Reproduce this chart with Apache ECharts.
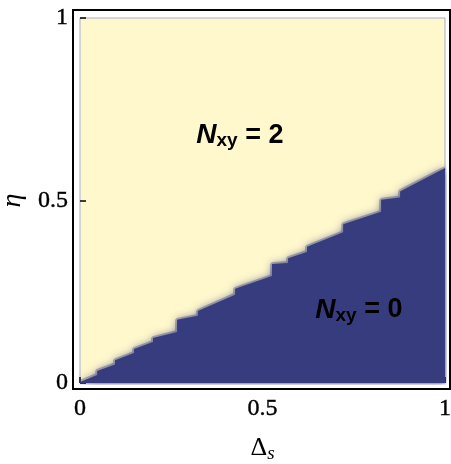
<!DOCTYPE html>
<html>
<head>
<meta charset="utf-8">
<script src="https://cdn.jsdelivr.net/npm/echarts@6/dist/echarts.min.js"></script>
<style>
  html, body { margin: 0; padding: 0; background: #fff; }
  #chart { width: 451px; height: 464px; }
</style>
</head>
<body>
<div id="chart"></div>
<script>
// phase boundary between N_xy = 0 (below) and N_xy = 2 (above)
var deltaS = [0, 0.047, 0.047, 0.096, 0.096, 0.148, 0.148, 0.200, 0.200, 0.266, 0.266,
              0.323, 0.323, 0.425, 0.425, 0.526, 0.526, 0.570, 0.570, 0.622, 0.622,
              0.721, 0.721, 0.825, 0.825, 0.877, 0.877, 1];
var eta = [0.003, 0.022, 0.033, 0.051, 0.062, 0.082, 0.093, 0.112, 0.123, 0.140, 0.173,
           0.184, 0.197, 0.242, 0.258, 0.293, 0.326, 0.329, 0.342, 0.359, 0.373,
           0.413, 0.435, 0.469, 0.502, 0.508, 0.525, 0.589];
var xTicks = [0, 0.5, 1];
var yTicks = [0, 0.5, 1];
var phaseLabels = [
  { pos: [0.438, 0.679], n: '2' },
  { pos: [0.764, 0.200], n: '0' }
];

var boundary = deltaS.map(function (d, i) { return [d, eta[i]]; });

var chart = echarts.init(document.getElementById('chart'));

var serif = 'Times New Roman';
var sans = 'Arial';
var option = {
  animation: false,
  textStyle: { fontFamily: serif },
  grid: [
    {
      left: 80, right: 6, top: 18, bottom: 81,
      outerBoundsMode: 'none',
      containLabel: false,
      show: true,
      backgroundColor: '#FFF8CC',
      borderColor: '#A9ABCF',
      borderWidth: 1
    },
    {
      left: 73, right: 1, top: 10, bottom: 75,
      outerBoundsMode: 'none',
      containLabel: false,
      show: true,
      backgroundColor: 'transparent',
      borderColor: '#000',
      borderWidth: 2
    }
  ],
  xAxis: [
    {
      type: 'value', gridIndex: 0, min: 0, max: 1, interval: 0.5,
      offset: 6,
      axisLine: { show: false },
      axisTick: { inside: true, length: 6, lineStyle: { color: '#000', width: 1.5 } },
      splitLine: { show: false },
      axisLabel: {
        color: '#000', fontFamily: serif, fontSize: 24, margin: 8,
        textBorderColor: '#000', textBorderWidth: 0.4,
        customValues: xTicks
      },
      name: 'Δ{s|s}',
      nameLocation: 'middle',
      nameGap: 45,
      nameTextStyle: {
        color: '#000', fontFamily: serif, fontSize: 26,
        rich: { s: { fontFamily: serif, fontStyle: 'italic', fontSize: 19, padding: [10, 0, 0, 0], color: '#000' } }
      }
    },
    { type: 'value', gridIndex: 1, show: false, min: 0, max: 1 }
  ],
  yAxis: [
    {
      type: 'value', gridIndex: 0, min: 0, max: 1, interval: 0.5,
      offset: 7,
      axisLine: { show: false },
      axisTick: { inside: true, length: 6, lineStyle: { color: '#000', width: 1.5 } },
      splitLine: { show: false },
      axisLabel: {
        color: '#000', fontFamily: serif, fontSize: 24, margin: 5,
        textBorderColor: '#000', textBorderWidth: 0.4,
        customValues: yTicks
      },
      name: 'η',
      nameLocation: 'middle',
      nameRotate: 90,
      nameGap: 46,
      nameTextStyle: { color: '#000', fontFamily: serif, fontStyle: 'italic', fontSize: 28 }
    },
    { type: 'value', gridIndex: 1, show: false, min: 0, max: 1 }
  ],
  series: [
    {
      type: 'line',
      xAxisIndex: 0, yAxisIndex: 0,
      data: boundary,
      symbol: 'none',
      lineStyle: { width: 4, color: 'rgba(54,60,126,0.35)' },
      areaStyle: {
        color: '#363C7E', opacity: 1,
        shadowBlur: 8, shadowColor: 'rgba(54,60,126,0.7)'
      },
      clip: true,
      z: 2
    },
    {
      type: 'scatter',
      xAxisIndex: 0, yAxisIndex: 0,
      symbolSize: 0,
      itemStyle: { opacity: 1 },
      data: phaseLabels.map(function (p) { return { value: p.pos, n: p.n }; }),
      label: {
        show: true,
        position: 'inside',
        formatter: function (p) { return '{n|N}{s|xy}{t| = ' + p.data.n + '}'; },
        rich: {
          n: { fontFamily: sans, fontWeight: 'bold', fontStyle: 'italic', fontSize: 28, color: '#000' },
          s: { fontFamily: sans, fontWeight: 'bold', fontSize: 19, color: '#000', padding: [12, 0, 0, 0] },
          t: { fontFamily: sans, fontWeight: 'bold', fontSize: 27, color: '#000' }
        }
      },
      z: 5
    }
  ]
};

chart.setOption(option);
</script>
</body>
</html>
